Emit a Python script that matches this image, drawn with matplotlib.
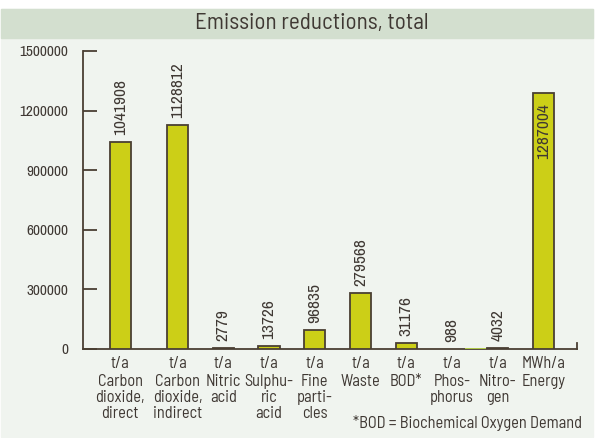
import numpy as np
import matplotlib
matplotlib.use("Agg")
import matplotlib.pyplot as plt
from matplotlib.patches import Rectangle

units = ["t/a", "t/a", "t/a", "t/a", "t/a", "t/a", "t/a", "t/a", "t/a", "MWh/a"]
names = [
    "Carbon\ndioxide,\ndirect",
    "Carbon\ndioxide,\nindirect",
    "Nitric\nacid",
    "Sulphu-\nric\nacid",
    "Fine\nparti-\ncles",
    "Waste",
    "BOD*",
    "Phos-\nphorus",
    "Nitro-\ngen",
    "Energy",
]
values = [1041908, 1128812, 2779, 13726, 96835, 279568, 31176, 988, 4032, 1287004]
yticks = [0, 300000, 600000, 900000, 1200000, 1500000]

title = "Emission reductions, total"
footnote = "*BOD = Biochemical Oxygen Demand"

W, H = 595, 438
panel_bg = "#f0f4ef"
band_bg = "#d3dfcf"
bar_fill = "#cccf17"
edge = "#4a3f33"
text_col = "#3f3833"
phos_col = "#b9d64a"

label_font = ["Barlow Semi Condensed", "DejaVu Sans"]
num_font = ["Archivo Narrow", "DejaVu Sans"]
plt.rcParams["font.family"] = label_font

fig = plt.figure(figsize=(W / 100, H / 100), dpi=100, facecolor="white")

# background panel and title band
fig.patches.append(Rectangle((1 / W, 1 / H), 592 / W, 428 / H,
                             transform=fig.transFigure, color=panel_bg, zorder=-2))
fig.patches.append(Rectangle((1 / W, (H - 38) / H), 592 / W, 29 / H,
                             transform=fig.transFigure, color=band_bg, zorder=-1))
fig.text(312 / W, 1 - 23.5 / H, title, ha="center", va="center",
         fontsize=16.6, color=text_col)

ax = fig.add_axes([83 / W, 89 / H, 494 / W, 298 / H])
ax.patch.set_visible(False)

# first category sits a bit further left than the regular spacing
pos = np.arange(len(values), dtype=float)
pos[0] -= 0.25
shift = np.zeros(len(values))
shift[7] = 0.52  # phosphorus bar drawn off-centre in the original

edges = [edge] * len(values)
edges[7] = phos_col
ax.bar(pos + shift, values, width=0.46, color=bar_fill, edgecolor=edges,
       linewidth=1.3, zorder=3)

for x, v in zip(pos, values):
    if v > 1200000:
        ax.annotate(str(v), xy=(x, v), xytext=(0, -10), textcoords="offset pixels",
                    rotation=90, ha="center", va="top", fontsize=12.5,
                    color=text_col, family=num_font, zorder=4)
    else:
        ax.annotate(str(v), xy=(x, v), xytext=(0, 7), textcoords="offset pixels",
                    rotation=90, ha="center", va="bottom", fontsize=12.5,
                    color=text_col, family=num_font)

for x, u, n in zip(pos, units, names):
    ax.annotate(u, xy=(x, 0), xycoords=("data", "axes fraction"), xytext=(0, -7),
                textcoords="offset pixels", ha="center", va="top",
                fontsize=11.8, color=text_col)
    ax.annotate(n, xy=(x, 0), xycoords=("data", "axes fraction"), xytext=(0, -25),
                textcoords="offset pixels", ha="center", va="top",
                fontsize=11.8, color=text_col, linespacing=1.1)

fig.text(582 / W, 1 - 423 / H, footnote, ha="right", va="center",
         fontsize=11.8, color=text_col)

ax.set_xlim(-1.066, 9.732)
ax.set_ylim(0, 1500000)
ax.set_yticks(yticks)
ax.set_yticklabels([str(t) for t in yticks], family=num_font)
ax.set_xticks([])
ax.tick_params(axis="y", direction="in", length=10, width=1.3, color=edge,
               pad=10.8, labelsize=11, labelcolor=text_col)
for s in ["top", "right"]:
    ax.spines[s].set_visible(False)
for s in ["left", "bottom"]:
    ax.spines[s].set_color(edge)
    ax.spines[s].set_linewidth(1.3)
ax.axvline(ax.get_xlim()[1], ymin=0, ymax=6 / 298, color=edge, lw=1.3, clip_on=False)

fig.savefig("out.png", dpi=100, facecolor=fig.get_facecolor())
